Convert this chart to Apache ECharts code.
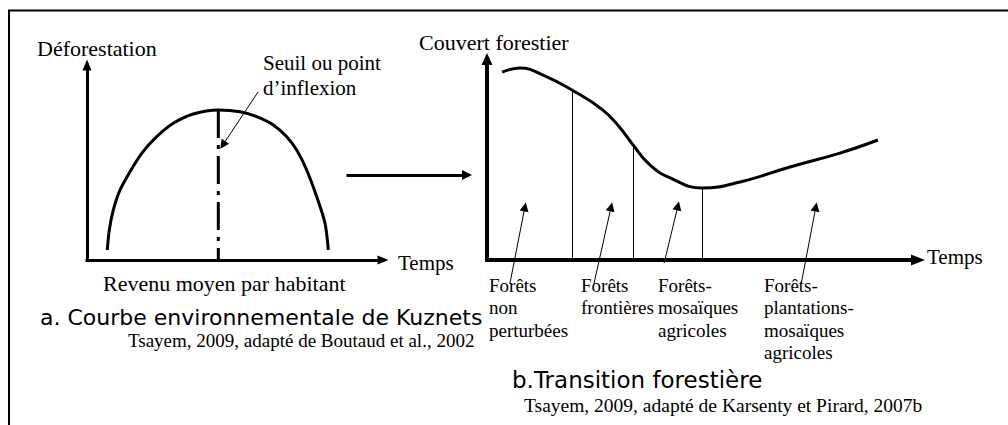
<!DOCTYPE html>
<html><head><meta charset="utf-8">
<script src="https://cdn.jsdelivr.net/npm/echarts@6/dist/echarts.min.js"></script>
<style>html,body{margin:0;padding:0;background:#fff}#c{width:1008px;height:425px}</style>
</head><body><div id="c"></div>
<script>
// ---- (a) Courbe environnementale de Kuznets : schematic units 0-100 ----
const kuzX = [6.86, 7.53, 8.89, 11.15, 14.53, 18.48, 23.55, 29.16, 35.91, 44.36, 51.69, 57.33, 62.94, 67.47, 70.84, 74.22, 77.6, 80.41, 81.52];
const kuzY = [5.13, 15.38, 25.64, 35.9, 45.28, 54.72, 63.23, 70.1, 74.87, 76.92, 76.05, 73.49, 69.23, 63.23, 56.41, 46.15, 32.46, 18.82, 5.13];
const kuzPeakIndex = 9;
const kuzNoteFrom = [57.8, 86.2];
const kuzNoteTo = [45.9, 59.0];

// ---- (b) Transition forestière : schematic units 0-100 ----
const ftX = [3.5, 7.7, 13.5, 19.7, 26.9, 30.9, 33.9, 37.8, 42.5, 49.9, 58.7, 70.3, 81.9, 90.7];
const ftY = [93.5, 95.5, 91.5, 84.6, 74.6, 65.7, 57.2, 47.3, 40.8, 35.8, 38.8, 46.3, 53.2, 59.7];
const ftBoundaryIdx = [3, 6, 9];
const ftArrowFrom = [[5.3, -11.9], [24.8, -11.9], [41.1, -1.5], [72.9, -11.9]];
const ftArrowTo = [[8.8, 26.4], [28.8, 26.4], [44.3, 26.9], [76.3, 26.4]];
const ftLabels = ['Forêts\nnon\nperturbées', 'Forêts\nfrontières', 'Forêts-\nmosaïques\nagricoles', 'Forêts-\nplantations-\nmosaïques\nagricoles'];

// ---- texts ----
const txtA = { yName: 'Déforestation', xName: 'Temps', xTitle: 'Revenu moyen par habitant', note: 'Seuil ou point\nd’inflexion',
  caption: 'a. Courbe environnementale de Kuznets', source: 'Tsayem, 2009, adapté de Boutaud et al., 2002' };
const txtB = { yName: 'Couvert forestier', xName: 'Temps', caption: 'b.Transition forestière',
  source: 'Tsayem, 2009, adapté de Karsenty et Pirard, 2007b' };

const SERIF = '"Liberation Serif","Times New Roman",serif';
const COMIC = '"Comic Sans MS","DejaVu Sans",sans-serif';
function T(text, x, y, size, family, va, lh) {
  return { type: 'text', x: x, y: y, silent: true,
    style: { text: text, fontSize: size, fontFamily: family, fill: '#000', verticalAlign: va || 'middle', lineHeight: lh } };
}

function axis(grid, w, sym) {
  return { gridIndex: grid, type: 'value', min: 0, max: 100,
    axisLine: { show: true, onZero: false, symbol: ['none', 'triangle'], symbolSize: sym,
      lineStyle: { color: '#000', width: w, cap: 'square' } },
    axisTick: { show: false }, axisLabel: { show: false }, splitLine: { show: false } };
}

const chart = echarts.init(document.getElementById('c'), null, { renderer: 'svg' });
chart.setOption({
  animation: false,
  backgroundColor: '#fff',
  grid: [
    { left: 87, top: 65, width: 296, height: 195 },
    { left: 487, top: 59, width: 431, height: 201 },
    { left: 348, top: 174, width: 119, height: 1 }
  ],
  xAxis: [
    axis(0, 3, [9, 11]),
    axis(1, 4, [11, 14]),
    axis(2, 3, [10, 10])
  ],
  yAxis: [
    axis(0, 3, [9, 11]),
    axis(1, 4, [11, 12]),
    Object.assign(axis(2, 1, [1, 1]), { show: false })
  ],
  series: [
    { type: 'line', xAxisIndex: 0, yAxisIndex: 0, smooth: 0.3, symbol: 'none', silent: true,
      lineStyle: { color: '#000', width: 3 }, data: kuzX.map((x, i) => [x, kuzY[i]]) },
    { type: 'line', xAxisIndex: 0, yAxisIndex: 0, symbol: 'none', silent: true,
      lineStyle: { color: '#000', width: 3, type: [28, 7, 4, 7], cap: 'butt' },
      data: [[kuzX[kuzPeakIndex], kuzY[kuzPeakIndex]], [kuzX[kuzPeakIndex], 0]] },
    { type: 'lines', coordinateSystem: 'cartesian2d', xAxisIndex: 0, yAxisIndex: 0, clip: false, silent: true,
      symbol: ['none', 'triangle'], symbolSize: [6, 9],
      lineStyle: { color: '#000', width: 1, opacity: 1 }, data: [{ coords: [kuzNoteFrom, kuzNoteTo] }] },
    { type: 'line', xAxisIndex: 1, yAxisIndex: 1, smooth: 0.45, symbol: 'none', silent: true,
      lineStyle: { color: '#000', width: 3 }, data: ftX.map((x, i) => [x, ftY[i]]) },
    { type: 'lines', coordinateSystem: 'cartesian2d', xAxisIndex: 1, yAxisIndex: 1, clip: false, silent: true,
      symbol: 'none', lineStyle: { color: '#000', width: 1, opacity: 1 },
      data: ftBoundaryIdx.map(i => ({ coords: [[ftX[i], ftY[i]], [ftX[i], 0]] })) },
    { type: 'lines', coordinateSystem: 'cartesian2d', xAxisIndex: 1, yAxisIndex: 1, clip: false, silent: true,
      symbol: ['none', 'triangle'], symbolSize: [6, 9],
      lineStyle: { color: '#000', width: 1, opacity: 1 },
      data: ftArrowFrom.map((p, i) => ({ coords: [p, ftArrowTo[i]] })) },
    { type: 'line', xAxisIndex: 2, yAxisIndex: 2, data: [] }
  ],
  graphic: [
    { type: 'polyline', silent: true, shape: { points: [[9, 425], [9, 10.5], [1008, 10.5]] },
      style: { stroke: '#000', lineWidth: 2, fill: null } },
    T(txtA.yName, 37, 48, 22, SERIF),
    T(txtA.note, 263, 50.5, 21, SERIF, 'top', 25),
    T(txtA.xName, 398, 263, 21, SERIF),
    T(txtA.xTitle, 103, 283, 22, SERIF),
    T(txtA.caption, 40, 317, 22, COMIC),
    T(txtA.source, 128, 340, 19, SERIF),
    T(txtB.yName, 419, 42, 22, SERIF),
    T(txtB.xName, 927, 257, 21, SERIF),
    T(ftLabels[0], 489, 274, 19, SERIF, 'top', 22.5),
    T(ftLabels[1], 581, 274, 19, SERIF, 'top', 22.5),
    T(ftLabels[2], 658, 274, 19, SERIF, 'top', 22.5),
    T(ftLabels[3], 764, 274, 19, SERIF, 'top', 22.5),
    T(txtB.caption, 512, 380, 23, COMIC),
    T(txtB.source, 524, 405, 19.5, SERIF)
  ]
});
</script>
</body></html>
